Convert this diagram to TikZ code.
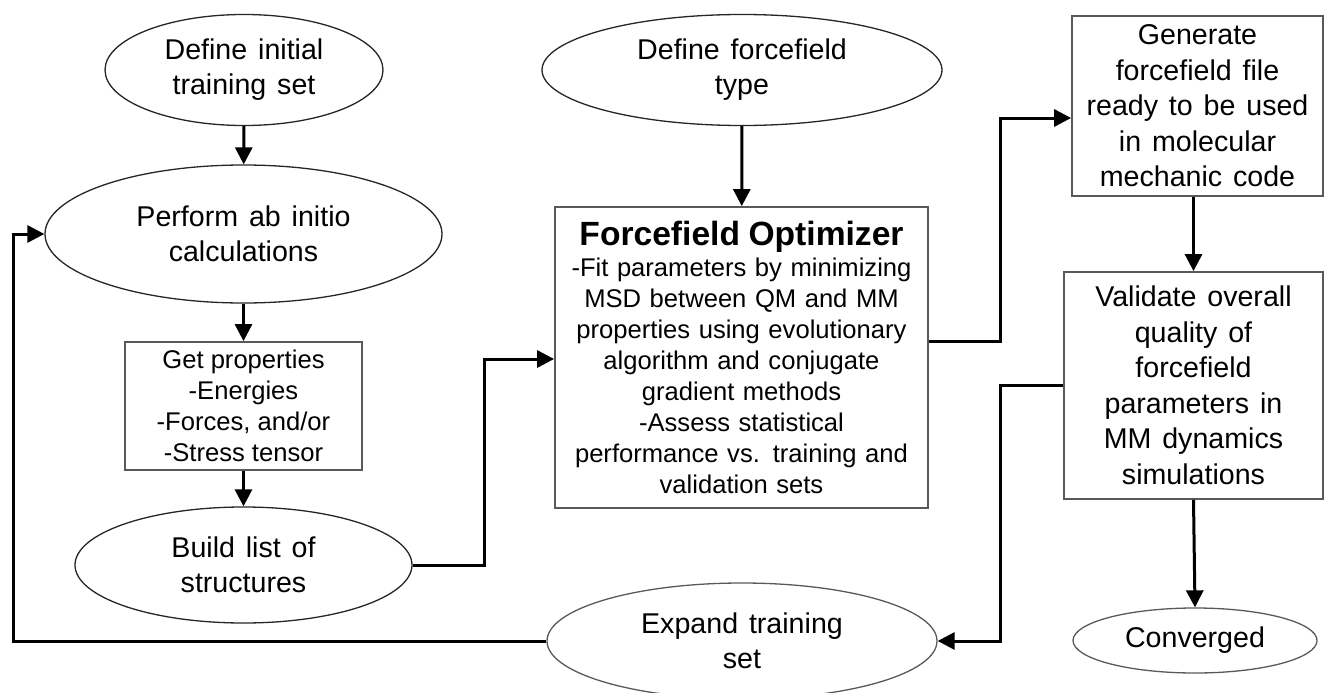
\documentclass[tikz,border=0pt]{standalone}
\usepackage{fontspec}
\setmainfont{Liberation Sans}
\usetikzlibrary{shapes.geometric,arrows.meta}
\newcommand\myWideSpace{\spaceskip 0.38em\relax}
\begin{document}
\begin{tikzpicture}[x=1pt,y=-1pt,
  ell/.style={ellipse, draw=black!85, line width=1.3pt, inner sep=0pt, align=center,
    font={\fontsize{28.6}{35}\selectfont\myWideSpace}},
  boxstyle/.style={rectangle, draw=black!65, line width=1.8pt, inner sep=0pt, align=center},
  bigtext/.style={font={\fontsize{28.6}{35.5}\selectfont\myWideSpace}},
  conn/.style={line width=3pt, -{Triangle[length=17pt,width=17pt]}},
  link/.style={line width=3pt}]
\useasboundingbox (0,0) rectangle (1325,693);
\clip (0,0) rectangle (1325,693);

% nodes
\node[ell, minimum width=278pt, minimum height=111pt] (e1) at (244,70) {Define initial\\training set};
\node[ell, minimum width=397pt, minimum height=138pt] (e2) at (243.5,234) {Perform ab initio\\calculations};
\node[boxstyle, minimum width=237pt, minimum height=128pt, font={\fontsize{25.6}{31}\selectfont}] (gp) at (243.5,406)
  {Get properties\\-Energies\\-Forces, and/or\\-Stress tensor};
\node[ell, minimum width=337pt, minimum height=116pt] (bl) at (243.5,565) {Build list of\\structures};
\node[ell, minimum width=400pt, minimum height=111pt] (ft) at (742,70) {Define forcefield\\type};
\node[boxstyle, minimum width=373pt, minimum height=301pt, text width=370pt,
  font={\fontsize{25.6}{31}\selectfont}] (opt) at (741.5,357.5)
  {{\fontsize{33.6}{33}\selectfont\bfseries Forcefield Optimizer}\\
   -Fit parameters by minimizing\\
   MSD between QM and MM\\
   properties using evolutionary\\
   algorithm and conjugate\\
   gradient methods\\
   -Assess statistical\\
   performance vs. training and\\
   validation sets};
\node[boxstyle, bigtext, minimum width=251pt, minimum height=180pt] (gen) at (1197.5,106)
  {Generate\\forcefield file\\ready to be used\\in molecular\\mechanic code};
\node[boxstyle, bigtext, minimum width=259pt, minimum height=227pt] (val) at (1193.5,385.5)
  {Validate overall\\quality of\\forcefield\\parameters in\\MM dynamics\\simulations};
\node[ell, draw=black!65, minimum width=244pt, minimum height=65pt] (conv) at (1195,640.5) {Converged};
\node[ell, draw=black!65, minimum width=390pt, minimum height=116pt] (exp) at (742,641) {Expand training\\set};

% junctions
\coordinate (j1) at (484,359);
\coordinate (j2) at (1000,341);
\coordinate (j3) at (1000,118);
\coordinate (j4) at (1000,641);
\coordinate (j5) at (13,641);

% connectors
\draw[conn] (e1) -- (e2);
\draw[conn] (e2) -- (gp);
\draw[conn] (gp) -- (bl);
\draw[conn] (ft) -- (opt);
\draw[conn] (bl.east) -| (j1) -- (opt.west |- j1);
\draw[conn] (opt.east |- j2) -- (j2) |- (gen.west |- j3);
\draw[conn] (val.north |- gen.south) -- (val.north);
\draw[conn] (val.south) -- (conv.north);
\draw[conn] (val.west) -| (j4) -- (exp.east);
\draw[conn] (exp.west) -- (j5) |- (e2.west);
\end{tikzpicture}
\end{document}
